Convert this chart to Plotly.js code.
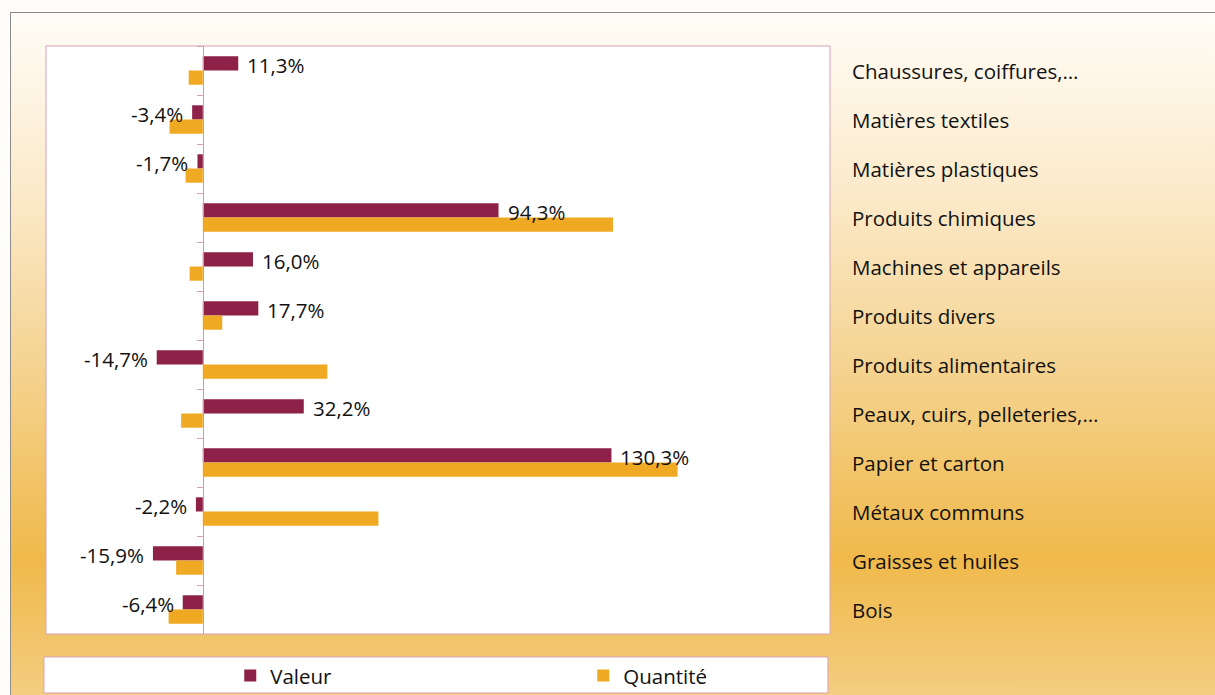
<!DOCTYPE html>
<html><head><meta charset="utf-8">
<script src="https://cdn.plot.ly/plotly-3.0.1.min.js"></script>
<style>
html,body{margin:0;padding:0;background:#fffdf9;overflow:hidden;}
#bg{position:absolute;left:10px;top:12px;width:1205px;height:683px;box-sizing:border-box;border-top:1px solid #8c8c8c;border-left:1px solid #8c8c8c;
background:linear-gradient(to bottom,#fffdf8 0%,#fbe9c8 27%,#f5d595 50%,#f0b94b 80%,#f4cd80 100%);}
#chart{position:absolute;left:0;top:0;width:1215px;height:695px;}
</style></head><body><div id="bg"></div><div id="chart"></div>
<script>
const categories = ["Chaussures, coiffures,…","Matières textiles","Matières plastiques","Produits chimiques","Machines et appareils","Produits divers","Produits alimentaires","Peaux, cuirs, pelleteries,…","Papier et carton","Métaux communs","Graisses et huiles","Bois"];
const valeur = [11.3,-3.4,-1.7,94.3,16.0,17.7,-14.7,32.2,130.3,-2.2,-15.9,-6.4];
const quantite = [-4.5,-10.6,-5.5,130.8,-4.2,6.2,39.7,-6.9,151.4,56.0,-8.5,-10.9];
const seriesNames = ["Valeur","Quantité"];

const FONT = "'Open Sans', 'Noto Sans', sans-serif";
const FS = 20.5;
const fmt = v => v.toFixed(1).replace('.', ',') + '%';

const traces = [
  {type:'bar', orientation:'h', name:seriesNames[0], y:categories, x:valeur, marker:{color:'#8d2147'}},
  {type:'bar', orientation:'h', name:seriesNames[1], y:categories, x:quantite, marker:{color:'#f0a922'}}
];

const annotations = [];
valeur.forEach((v,i)=>{
  annotations.push({x:v, y:categories[i], xref:'x', yref:'y', text:fmt(v), showarrow:false,
    xanchor: v>=0?'left':'right', xshift: v>=0?7:-7, yshift:6,
    font:{family:FONT,size:FS,color:'#111'}});
});
categories.forEach((c,i)=>{
  annotations.push({x:1.026, y:c, xref:'paper', yref:'y', text:c, showarrow:false, xanchor:'left',
    font:{family:FONT,size:FS,color:'#111'}});
});

const layout = {
  width:1215, height:695,
  margin:{l:46,r:385,t:46,b:61,pad:0,autoexpand:false},
  paper_bgcolor:'rgba(0,0,0,0)', plot_bgcolor:'#ffffff',
  barmode:'group', bargap:0.42, bargroupgap:0,
  xaxis:{range:[-50,200], showticklabels:false, showgrid:false, zeroline:false, showline:false, ticks:'', fixedrange:true},
  yaxis:{type:'category', autorange:'reversed', anchor:'free', position:0.2003, showticklabels:false,
    ticks:'outside', tickson:'boundaries', ticklen:6, tickcolor:'#d4a3b9', tickwidth:1,
    showline:true, linecolor:'#c99bb0', linewidth:1, showgrid:false, zeroline:false, fixedrange:true},
  showlegend:true,
  legend:{orientation:'h', x:0.235, xanchor:'left', y:-0.071, yanchor:'middle', bgcolor:'rgba(0,0,0,0)',
    entrywidth:308, entrywidthmode:'pixels', font:{family:FONT,size:FS,color:'#111'}, traceorder:'normal'},
  shapes:[
    {type:'rect', xref:'paper', yref:'paper', x0:0, x1:1, y0:0, y1:1, line:{color:'#d6a2b8',width:1}, fillcolor:'rgba(0,0,0,0)', layer:'above'},
    {type:'rect', xref:'paper', yref:'paper', x0:-0.0026, x1:0.9974, y0:-0.1003, y1:-0.0391, line:{color:'#d6a2b8',width:1}, fillcolor:'#ffffff', layer:'below'}
  ],
  annotations:annotations,
  hovermode:false,
  font:{family:FONT}
};
Plotly.newPlot('chart', traces, layout, {displayModeBar:false, staticPlot:true});
</script></body></html>
